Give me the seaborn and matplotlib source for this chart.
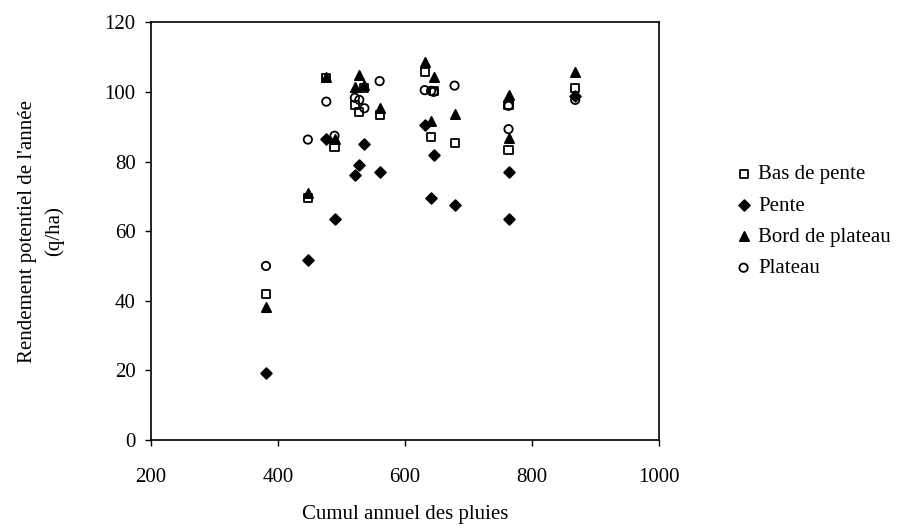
import pandas as pd
import matplotlib
matplotlib.use("Agg")
import matplotlib.pyplot as plt
import seaborn as sns

# cumul annuel des pluies (mm) per year
pluie = [381, 447, 476, 489, 521, 528, 536, 560, 631, 641, 645, 678, 763, 763, 868]

# rendement potentiel (q/ha) per position
bas_de_pente = [42.0, 69.4, 104.0, 84.3, 96.2, 94.3, 101.0, 93.4, 105.6, 87.1, 100.3, 85.2, 96.2, 83.3, 101.0]
pente = [19.3, 51.6, 86.5, 63.5, 76.1, 79.0, 85.0, 77.1, 90.5, 69.6, 81.9, 67.5, 77.1, 63.5, 98.9]
bord_de_plateau = [38.1, 70.9, 104.2, 86.5, 101.5, 104.9, 102.0, 95.3, 108.7, 91.6, 104.4, 93.6, 99.1, 86.7, 105.8]
plateau = [50.0, 86.3, 97.2, 87.4, 98.3, 97.7, 95.3, 103.1, 100.5, 100.3, 100.0, 101.8, 96.0, 89.3, 97.7]

series = {
    "Bas de pente": bas_de_pente,
    "Pente": pente,
    "Bord de plateau": bord_de_plateau,
    "Plateau": plateau,
}
styles = {
    "Bas de pente": dict(marker="s", facecolor="none", s=34),
    "Pente": dict(marker="D", facecolor="black", s=30),
    "Bord de plateau": dict(marker="^", facecolor="black", s=44),
    "Plateau": dict(marker="o", facecolor="none", s=36),
}

sns.set_theme(style="ticks")
plt.rcParams["font.family"] = ["Liberation Serif", "DejaVu Serif"]
plt.rcParams["text.color"] = "black"
plt.rcParams["axes.labelcolor"] = "black"

fig = plt.figure(figsize=(9.07, 5.30), dpi=100)
ax = fig.add_axes([0.1665, 0.1698, 0.5601, 0.7882])

for name, vals in series.items():
    df = pd.DataFrame({"x": pluie, "y": vals})
    st = styles[name]
    sns.scatterplot(data=df, x="x", y="y", ax=ax, marker=st["marker"], s=st["s"],
                    facecolor=st["facecolor"], edgecolor="black", linewidth=1.3,
                    label=name)

ax.set_xlim(200, 1000)
ax.set_ylim(0, 120)
ax.set_xticks(range(200, 1001, 200))
ax.set_yticks(range(0, 121, 20))
ax.tick_params(axis="both", direction="out", length=4, width=1, colors="black",
               labelsize=15)
ax.tick_params(axis="x", pad=16)
ax.tick_params(axis="y", pad=7)
for sp in ax.spines.values():
    sp.set_visible(True)
    sp.set_color("black")
    sp.set_linewidth(1.2)

ax.set_xlabel("Cumul annuel des pluies", fontsize=15, labelpad=13)
ax.set_ylabel("Rendement potentiel de l'année\n(q/ha)", fontsize=15, labelpad=29,
              linespacing=1.5)

ax.legend(loc="center left", bbox_to_anchor=(1.15, 0.523), frameon=False,
          fontsize=15, handlelength=0.8, handletextpad=0.3, labelspacing=0.56,
          borderpad=0, borderaxespad=0)

fig.savefig("out.png", dpi=100)
